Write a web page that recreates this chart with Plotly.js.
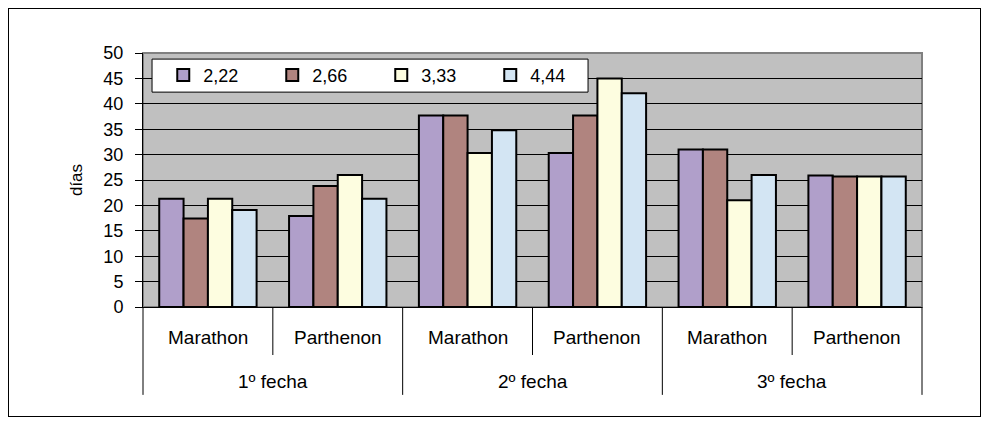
<!DOCTYPE html>
<html>
<head>
<meta charset="utf-8">
<script src="https://cdn.plot.ly/plotly-3.0.1.min.js"></script>
<style>
  html, body { margin: 0; padding: 0; background: #fff; }
  #wrap { position: relative; width: 988px; height: 426px; }
  #chart { width: 988px; height: 426px; }
  #frame { position: absolute; left: 8px; top: 8px; width: 971px; height: 407px; border: 1px solid #000; pointer-events: none; }
</style>
</head>
<body>
<div id="wrap">
  <div id="chart"></div>
  <div id="frame"></div>
</div>
<script>
// ---- data ----
const groups = ["1º fecha", "1º fecha", "2º fecha", "2º fecha", "3º fecha", "3º fecha"];
const places = ["Marathon", "Parthenon", "Marathon", "Parthenon", "Marathon", "Parthenon"];
const seriesNames = ["2,22", "2,66", "3,33", "4,44"];
const s222 = [21.3, 17.9, 37.7, 30.3, 31.0, 25.9];
const s266 = [17.4, 23.8, 37.7, 37.7, 31.0, 25.7];
const s333 = [21.3, 26.0, 30.3, 45.0, 21.0, 25.7];
const s444 = [19.1, 21.3, 34.8, 42.1, 26.0, 25.7];
const yTicks = [0, 5, 10, 15, 20, 25, 30, 35, 40, 45, 50];

const colors = ["#b09fca", "#b0847f", "#fdfde0", "#d3e5f3"];
const values = [s222, s266, s333, s444];

const traces = values.map((v, i) => ({
  type: "bar",
  name: seriesNames[i],
  x: [groups, places],
  y: v,
  marker: { color: colors[i], line: { color: "#000", width: 2 } },
  hoverinfo: "skip"
}));

const n = places.length;
const shapes = [];
const annotations = [];
// gray plot frame (top/right)
shapes.push({ type: "rect", xref: "paper", yref: "paper", x0: 0, x1: 1, y0: 0, y1: 1,
  line: { color: "#808080", width: 2 }, layer: "below" });
// legend box
shapes.push({ type: "rect", xref: "paper", yref: "paper",
  x0: 0.0116, x1: 0.5713, y0: 0.846, y1: 0.976,
  fillcolor: "#fff", line: { color: "#000", width: 1 }, layer: "above" });
// separator lines below the axis
for (let i = 0; i <= n; i++) {
  const isGroupEdge = (i === 0 || i === n || groups[i] !== groups[i - 1]);
  shapes.push({
    type: "line", xref: "paper", yref: "paper",
    x0: i / n, x1: i / n, y0: 0, y1: isGroupEdge ? -0.346 : -0.189,
    line: { color: "#000", width: 1 }
  });
}
const labelFont = { family: "Liberation Sans, Arial, sans-serif", size: 19, color: "#000" };
// inner category labels
places.forEach((p, i) => {
  annotations.push({ xref: "paper", yref: "paper", x: (i + 0.5) / n, y: -0.122,
    xanchor: "center", yanchor: "middle", text: p, showarrow: false, font: labelFont });
});
// outer group labels
const uniq = [...new Set(groups)];
uniq.forEach(g => {
  const first = groups.indexOf(g), last = groups.lastIndexOf(g);
  annotations.push({ xref: "paper", yref: "paper", x: (first + last + 1) / 2 / n, y: -0.295,
    xanchor: "center", yanchor: "middle", text: g, showarrow: false, font: labelFont });
});

const font = { family: "Liberation Sans, Arial, sans-serif", size: 18, color: "#000" };

const layout = {
  width: 988, height: 426,
  margin: { l: 143, r: 66, t: 53, b: 119 },
  paper_bgcolor: "#fff",
  plot_bgcolor: "#c0c0c0",
  font: font,
  barmode: "group",
  bargap: 0.25,
  bargroupgap: 0,
  showlegend: true,
  legend: {
    orientation: "h",
    x: 0.026, y: 0.985, xanchor: "left", yanchor: "top",
    bgcolor: "rgba(0,0,0,0)", borderwidth: 0,
    entrywidth: 64, entrywidthmode: "pixels",
    font: font, traceorder: "normal"
  },
  xaxis: {
    type: "multicategory",
    showgrid: false,
    showline: true, linecolor: "#000", linewidth: 1,
    ticks: "", showdividers: false,
    showticklabels: false
  },
  yaxis: {
    range: [0, 50],
    tickvals: yTicks,
    ticktext: yTicks.map(String),
    showgrid: true, gridcolor: "#000", gridwidth: 1,
    showline: true, linecolor: "#000", linewidth: 1,
    ticks: "outside", ticklen: 7, tickcolor: "#000",
    ticklabelstandoff: 8,
    tickfont: font,
    zeroline: false,
    title: { text: "días", font: { family: font.family, size: 17, color: "#000" }, standoff: 16 }
  },
  shapes: shapes,
  annotations: annotations
};

Plotly.newPlot("chart", traces, layout, { displayModeBar: false, staticPlot: true });
</script>
</body>
</html>
